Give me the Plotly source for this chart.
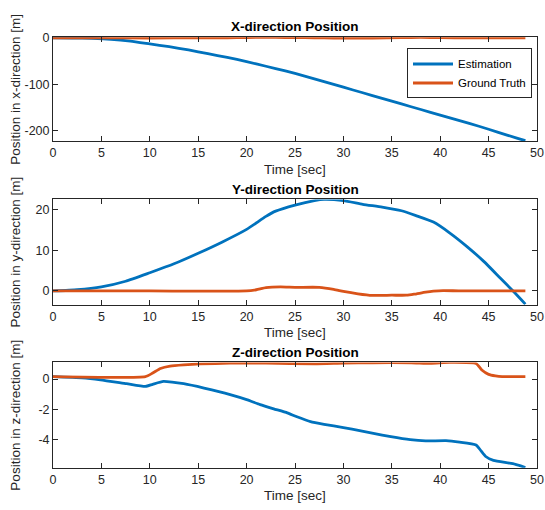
import plotly.graph_objects as go

# ---------------- data ----------------
tx_est = [0, 2, 4, 6, 8, 10, 12, 14, 16, 18, 20, 22, 24, 26, 28, 30, 32, 34, 36, 38, 40, 42, 44, 46, 48, 48.8]
x_est = [0, -0.3, -1.2, -3, -7, -13, -19, -26, -34, -42, -51, -61, -71, -82, -94, -106, -118, -130, -142, -154, -166, -178, -190, -203, -216, -221]
tx_gt = [0, 5, 10, 15, 18, 20, 22, 24, 26, 28, 30, 33, 36, 38, 40, 43, 46, 48.8]
x_gt = [0, 0, -0.3, 0, 0.3, 0.8, 1.0, 0.8, 0.5, 0, -0.4, -0.3, 0.4, 1.0, 0.6, 0, 0, 0]

ty_est = [0, 2.5, 5, 7.5, 10, 12.5, 15, 17.5, 20, 22, 23, 25, 27, 28, 30, 32, 34, 36, 37.5, 39.3, 41, 42.8, 44.5, 46.2, 47.6, 48.8]
y_est = [0, 0.3, 1.0, 2.4, 4.5, 6.7, 9.3, 12.1, 15.2, 18.4, 19.7, 21.2, 22.3, 22.6, 22.3, 21.4, 20.7, 19.8, 18.6, 17.0, 14.3, 10.9, 7.3, 3.2, -0.2, -3.25]
ty_gt = [0, 10, 20, 21, 22, 23.5, 25, 27.5, 29, 30, 31.5, 33, 35, 36.5, 37.3, 38.5, 39.3, 40.3, 42, 48.8]
y_gt = [0, 0, 0, 0.3, 0.8, 1.0, 0.9, 0.9, 0.4, -0.1, -0.7, -1.1, -1.05, -1.05, -0.8, -0.3, -0.06, 0.1, 0.02, 0]

tz_est = [0, 3, 4.9, 7.6, 9.55, 10.3, 11.4, 12.3, 13.5, 15.6, 18.3, 20, 21.4, 22.8, 24.2, 25.2, 26.6, 28, 30, 31.8, 33.1, 34.9, 36.9, 38.5, 40.6, 42, 43.7, 44.2, 44.7, 45.5, 47.5, 48.8]
z_est = [0.16, 0.08, -0.05, -0.31, -0.49, -0.35, -0.16, -0.2, -0.31, -0.6, -1.03, -1.36, -1.69, -1.97, -2.24, -2.5, -2.82, -3.0, -3.21, -3.43, -3.6, -3.82, -4.02, -4.1, -4.08, -4.18, -4.37, -4.74, -5.13, -5.39, -5.61, -5.86]
tz_gt = [0, 9.55, 10.3, 11.1, 12.1, 13.5, 15.2, 18.3, 22, 27, 30, 33, 37, 39, 41, 43.7, 44.3, 45, 45.7, 46.4, 48.8]
z_gt = [0.16, 0.16, 0.4, 0.7, 0.86, 0.94, 1.0, 1.05, 1.05, 1.0, 1.05, 1.08, 1.08, 1.04, 1.1, 1.03, 0.6, 0.31, 0.21, 0.16, 0.16]

panel_titles = ["X-direction Position", "Y-direction Position", "Z-direction Position"]
ylabels = ["Position in x-direction [m]", "Position in y-direction [m]", "Position in z-direction [m]"]
xlabel = "Time [sec]"
series_names = ["Estimation", "Ground Truth"]
yranges = [[-222.5, 1.2], [-3.4, 22.6], [-5.88, 1.1]]
ytickvals = [[-200, -100, 0], [0, 10, 20], [-4, -2, 0]]
xtickvals = [0, 5, 10, 15, 20, 25, 30, 35, 40, 45, 50]

# ---------------- styling ----------------
W, H = 545, 510
L, R = 53, 8
BLUE = "#0072BD"
ORANGE = "#D95319"
AX = "#262626"
FONT = "Liberation Sans"
panels_px = [(31.7, 137.0), (195.7, 302.3), (360.7, 467.3)]

fig = go.Figure()
data = [(tx_est, x_est, tx_gt, x_gt), (ty_est, y_est, ty_gt, y_gt), (tz_est, z_est, tz_gt, z_gt)]
plot_w = W - L - R

annotations = []
for i, (te, ve, tg, vg) in enumerate(data):
    ax = "" if i == 0 else str(i + 1)
    fig.add_trace(go.Scatter(x=te, y=ve, mode="lines", line=dict(color=BLUE, width=2.8, shape="spline", smoothing=0.5),
                             name=series_names[0], showlegend=(i == 0), xaxis="x" + ax, yaxis="y" + ax))
    fig.add_trace(go.Scatter(x=tg, y=vg, mode="lines", line=dict(color=ORANGE, width=2.8, shape="spline", smoothing=0.5),
                             name=series_names[1], showlegend=(i == 0), xaxis="x" + ax, yaxis="y" + ax))
    top, bot = panels_px[i]
    dom = [1 - bot / H, 1 - top / H]
    common = dict(showline=True, linecolor=AX, linewidth=1, mirror="ticks", ticks="inside", ticklen=5,
                  tickcolor=AX, showgrid=False, zeroline=False,
                  tickfont=dict(family=FONT, size=12.5, color=AX))
    fig.update_layout(**{
        "xaxis" + ax: dict(range=[0, 50], tickvals=xtickvals, ticktext=[str(v) for v in xtickvals],
                           anchor="y" + ax, domain=[0, 1], **common),
        "yaxis" + ax: dict(range=yranges[i], tickvals=ytickvals[i], ticktext=[str(v) for v in ytickvals[i]],
                           anchor="x" + ax, domain=dom, **common),
    })
    annotations.append(dict(text="<b>" + panel_titles[i] + "</b>", xref="paper", yref="paper",
                            x=0.5, y=1 - (top - 10.5) / H, xanchor="center", yanchor="middle",
                            showarrow=False, font=dict(family=FONT, size=13.5, color="black")))
    annotations.append(dict(text=xlabel, xref="paper", yref="paper",
                            x=0.5, y=1 - (bot + 28.5) / H, xanchor="center", yanchor="middle",
                            showarrow=False, font=dict(family=FONT, size=13.5, color=AX)))
    annotations.append(dict(text=ylabels[i], xref="paper", yref="paper", textangle=-90,
                            x=(15.5 - L) / plot_w, y=1 - ((top + bot) / 2) / H, xanchor="center", yanchor="middle",
                            showarrow=False, font=dict(family=FONT, size=13.5, color=AX)))

fig.update_layout(
    width=W, height=H,
    margin=dict(l=L, r=R, t=0, b=0),
    paper_bgcolor="white", plot_bgcolor="white",
    annotations=annotations,
    legend=dict(x=(532 - L) / plot_w, y=1 - 68.3 / H, xanchor="right", yanchor="middle",
                bordercolor=AX, borderwidth=1, bgcolor="white",
                font=dict(family=FONT, size=11.5, color="black"),
                tracegroupgap=0, itemwidth=40),
    showlegend=True,
)

fig.write_html("out.html")
